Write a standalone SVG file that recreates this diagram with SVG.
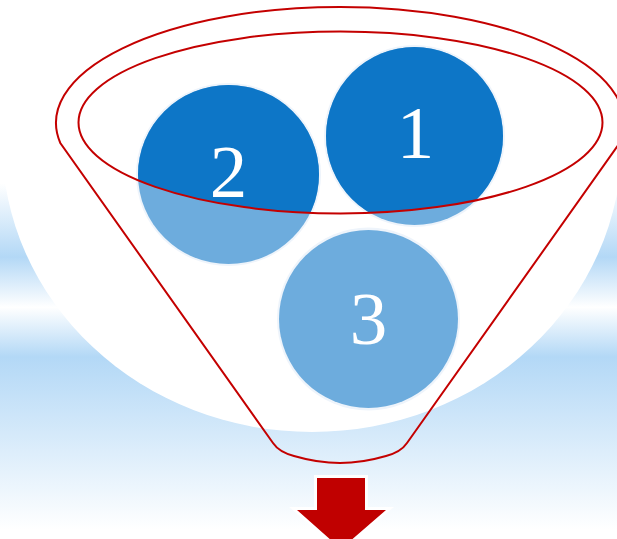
<svg xmlns="http://www.w3.org/2000/svg" width="617" height="539" viewBox="0 0 617 539">
  <defs>
    <linearGradient id="bg" gradientUnits="userSpaceOnUse" x1="0" y1="0" x2="0" y2="539">
      <stop offset="0" stop-color="#ffffff"/>
      <stop offset="0.34" stop-color="#ffffff"/>
      <stop offset="0.477" stop-color="#b3d8f6"/>
      <stop offset="0.57" stop-color="#ffffff"/>
      <stop offset="0.662" stop-color="#b3d8f6"/>
      <stop offset="0.983" stop-color="#ffffff"/>
      <stop offset="1" stop-color="#ffffff"/>
    </linearGradient>
    <clipPath id="rim">
      <ellipse cx="340.5" cy="122.5" rx="262" ry="91"/>
    </clipPath>
    <style>
      .halo { fill: #eef4fb; }
      .light { fill: #6dacdd; }
      .dark { fill: #0d76c7; }
      .num { font-family: "Liberation Serif", "Times New Roman", serif; font-size: 75px; fill: #ffffff; text-anchor: middle; }
      .red { fill: none; stroke: #c40000; stroke-width: 2; }
    </style>
  </defs>

  <g id="background">
    <rect x="0" y="0" width="617" height="539" fill="url(#bg)"/>
    <ellipse cx="312" cy="142" rx="310" ry="290" fill="#ffffff"/>
  </g>

  <g id="circle-3">
    <ellipse class="halo" cx="368.5" cy="319" rx="91.5" ry="91.5"/>
    <ellipse class="light" cx="368.5" cy="319" rx="89.5" ry="89"/>
    <text class="num" x="368.5" y="344">3</text>
  </g>

  <g id="circle-2">
    <ellipse class="halo" cx="228.5" cy="174.5" rx="92.5" ry="91.5"/>
    <ellipse class="light" cx="228.5" cy="174.5" rx="90.5" ry="89.5"/>
    <ellipse class="dark" cx="228.5" cy="174.5" rx="90.5" ry="89.5" clip-path="url(#rim)"/>
    <text class="num" x="228.5" y="197">2</text>
  </g>

  <g id="circle-1">
    <ellipse class="halo" cx="414.5" cy="136" rx="90.5" ry="91"/>
    <ellipse class="light" cx="414.5" cy="136" rx="88.5" ry="89"/>
    <ellipse class="dark" cx="414.5" cy="136" rx="88.5" ry="89" clip-path="url(#rim)"/>
    <text class="num" x="415.5" y="158">1</text>
  </g>

  <g id="funnel">
    <path class="red" d="M 60.3,143 A 284 116 0 1 1 619.7,143 L 407,443 Q 401,452 386,456 Q 362,463 340,463 Q 318,463 294,456 Q 279,452 273,443 Z"/>
    <ellipse class="red" cx="340.5" cy="122.5" rx="262" ry="91"/>
  </g>

  <g id="arrow">
    <polygon points="317,478 365,478 365,510 386,510 341,549 297,510 317,510" fill="#c00000" stroke="#ffffff" stroke-width="6" stroke-linejoin="miter" paint-order="stroke"/>
  </g>
</svg>
